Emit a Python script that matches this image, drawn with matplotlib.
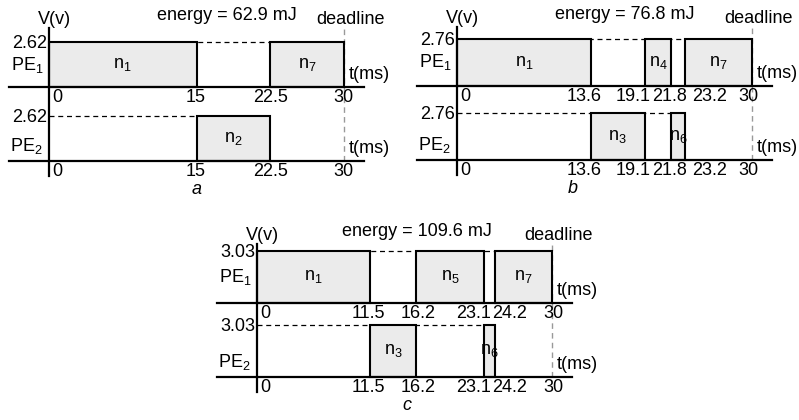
import numpy as np
import matplotlib.pyplot as plt

plt.rcParams['font.family'] = ['Liberation Sans', 'DejaVu Sans']
plt.rcParams['mathtext.default'] = 'regular'

# --- data: three schedules (a, b, c) on two processing elements ---
panel_names = ['a', 'b', 'c']
voltages = [2.62, 2.76, 3.03]
energies = [62.9, 76.8, 109.6]
deadline = 30

# (task index, start, end) in ms
pe1_tasks = [
    [(1, 0, 15), (7, 22.5, 30)],
    [(1, 0, 13.6), (4, 19.1, 21.8), (7, 23.2, 30)],
    [(1, 0, 11.5), (5, 16.2, 23.1), (7, 24.2, 30)],
]
pe2_tasks = [
    [(2, 15, 22.5)],
    [(3, 13.6, 19.1), (6, 21.8, 23.2)],
    [(3, 11.5, 16.2), (6, 23.1, 24.2)],
]
time_ticks = [
    [0, 15, 22.5, 30],
    [0, 13.6, 19.1, 21.8, 23.2, 30],
    [0, 11.5, 16.2, 23.1, 24.2, 30],
]

# --- layout (pixels of the 799x420 output) ---
W, H = 799, 420
PX = 17.2            # pixels per y unit
ROW = 4.3            # PE1 baseline above PE2 baseline
YLO, YHI = -2.2, 9.0
panel_left = [49, 457, 257]      # x pixel of t=0
panel_base = [161, 160, 377]     # y pixel of PE2 baseline
energy_x = [18.1, 17.1, 16.3]
letter_x = [15.0, 11.8, 15.2]
# tick labels are nudged sideways (ms) so the crowded ones don't collide
tick_shift = [
    [0.85, -0.1, 0.0, -0.1],
    [0.85, -0.7, -1.2, -0.15, 2.5, -0.4],
    [0.85, -0.15, 0.2, -1.05, 1.5, 0.1],
]

FILL = '#ebebeb'
FS = 13

fig = plt.figure(figsize=(W / 100, H / 100), dpi=100)

for i in range(3):
    bottom_px = panel_base[i] - YLO * PX
    height_px = (YHI - YLO) * PX
    ax = fig.add_axes([panel_left[i] / W, 1 - bottom_px / H,
                       295 / W, height_px / H])
    ax.set_xlim(0, 30)
    ax.set_ylim(YLO, YHI)
    ax.axis('off')

    v = voltages[i]
    for base, tasks, pe in [(ROW, pe1_tasks[i], 1), (0, pe2_tasks[i], 2)]:
        # dashed voltage level under the boxes
        last = max(t[2] for t in tasks)
        ax.plot([0, last], [base + v, base + v], color='k', lw=0.9,
                ls=(0, (4, 3)), zorder=1, clip_on=False)
        for k, s, e in tasks:
            ax.bar(s, v, width=e - s, bottom=base, align='edge', color=FILL,
                   edgecolor='k', lw=1.5, zorder=3, clip_on=False)
            ax.text((s + e) / 2, base + v / 2, '$n_{%d}$' % k, ha='center',
                    va='center', fontsize=FS, zorder=4)
        # time axis
        ax.plot([-4.1, 32.0], [base, base], color='k', lw=1.6, zorder=5,
                clip_on=False)
        for t, dx in zip(time_ticks[i], tick_shift[i]):
            ax.text(t + dx, base - 0.62, '%g' % t, ha='center',
                    va='center', fontsize=FS)
        ax.text(30.5, base + 0.75, 't(ms)', ha='left', va='center', fontsize=FS)
        ax.text(-0.2, base + v - 0.1, '%.2f' % v, ha='right', va='center',
                fontsize=FS)
        pe_y = v / 2 if pe == 1 else 0.85
        ax.text(-0.6, base + pe_y, '$PE_{%d}$' % pe, ha='right', va='center',
                fontsize=FS)

    # voltage axis and deadline
    ax.plot([0, 0], [-0.9, ROW + 3.45], color='k', lw=1.6, zorder=5,
            clip_on=False)
    ax.plot([deadline, deadline], [0, ROW + 3.4], color='#999999', lw=1.0,
            ls=(0, (4, 3)), zorder=2, clip_on=False)

    ax.text(0.6, ROW + 3.95, 'V(v)', ha='center', va='center', fontsize=FS)
    ax.text(energy_x[i], ROW + 4.15, 'energy = %.1f mJ' % energies[i],
            ha='center', va='center', fontsize=FS)
    ax.text(30.7, ROW + 3.95, 'deadline', ha='center', va='center', fontsize=FS)
    ax.text(letter_x[i], -1.65, panel_names[i], ha='center', va='center',
            fontsize=FS, style='italic')

fig.savefig('out.png', dpi=100)
